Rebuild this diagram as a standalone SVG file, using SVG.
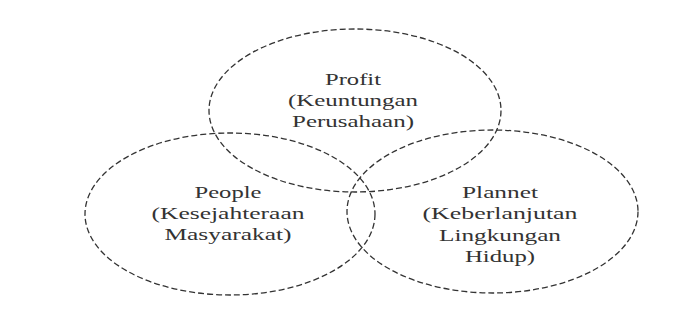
<svg xmlns="http://www.w3.org/2000/svg" width="685" height="330" viewBox="0 0 685 330">
<style>
.c{fill:none;stroke:#333;stroke-width:1.3;stroke-dasharray:6 3}
.t{font-family:"Liberation Serif","Times New Roman",serif;font-size:17px;fill:#333;text-anchor:middle}
</style>
<rect width="685" height="330" fill="#fff"/>
<g id="connectors"></g>
<g id="profit">
<ellipse class="c" cx="355" cy="110.5" rx="146" ry="81.5"/>
<text class="t" x="353" y="85" textLength="56" lengthAdjust="spacingAndGlyphs">Profit</text>
<text class="t" x="353" y="106" textLength="130" lengthAdjust="spacingAndGlyphs">(Keuntungan</text>
<text class="t" x="353" y="127" textLength="122" lengthAdjust="spacingAndGlyphs">Perusahaan)</text>
</g>
<g id="people">
<ellipse class="c" cx="230" cy="214" rx="145" ry="81"/>
<text class="t" x="228" y="198" textLength="67" lengthAdjust="spacingAndGlyphs">People</text>
<text class="t" x="228" y="219" textLength="153" lengthAdjust="spacingAndGlyphs">(Kesejahteraan</text>
<text class="t" x="228" y="240" textLength="127" lengthAdjust="spacingAndGlyphs">Masyarakat)</text>
</g>
<g id="planet">
<ellipse class="c" cx="492.5" cy="211.5" rx="145.5" ry="81.5"/>
<text class="t" x="500" y="198" textLength="76" lengthAdjust="spacingAndGlyphs">Plannet</text>
<text class="t" x="500" y="219" textLength="155" lengthAdjust="spacingAndGlyphs">(Keberlanjutan</text>
<text class="t" x="500" y="241" textLength="122" lengthAdjust="spacingAndGlyphs">Lingkungan</text>
<text class="t" x="500" y="262" textLength="70" lengthAdjust="spacingAndGlyphs">Hidup)</text>
</g>
</svg>
